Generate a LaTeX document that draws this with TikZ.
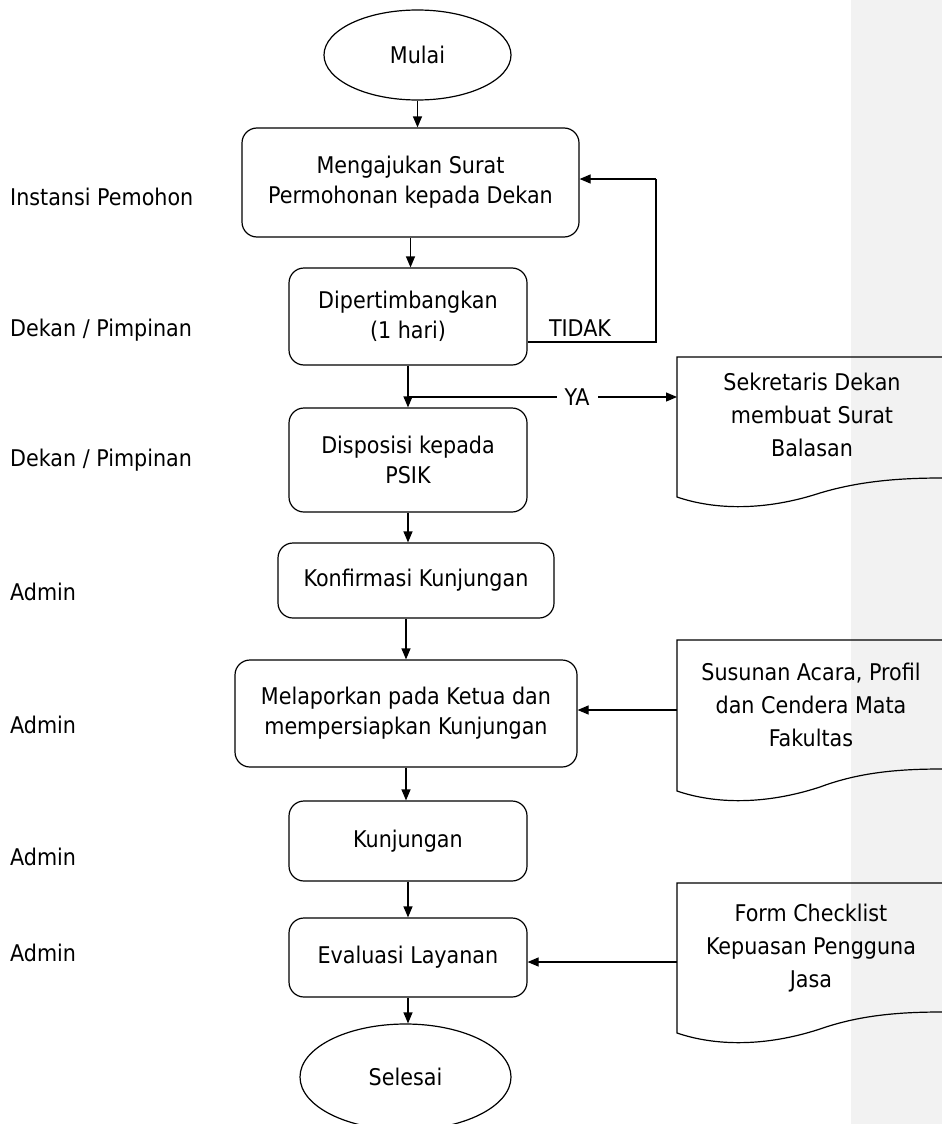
\documentclass[tikz,border=0pt]{standalone}
\usepackage{fontspec}
\setmainfont{DejaVu Sans Condensed}
\usetikzlibrary{shapes.geometric,arrows.meta,calc}
\definecolor{greyband}{RGB}{242,242,242}
\newcommand{\docpath}[3]{%
  \draw[ln] (942,#1) -- (677,#1) -- (677,#2)
    .. controls (715,#2+13) and (765,#2+14) .. (820,#2-4)
    .. controls (860,#2-#3+3) and (900,#2-#3) .. (942,#2-#3);}
\begin{document}
\begin{tikzpicture}[x=1pt,y=-1pt,
  every node/.style={font=\fontsize{23}{30}\selectfont, inner sep=0pt},
  proc/.style={draw, rounded corners=15pt, line width=1.2pt, align=center},
  term/.style={draw, ellipse, line width=1.2pt},
  arr/.style={line width=1.2pt, -{Triangle[length=11pt,width=9pt]}},
  ln/.style={line width=1.2pt},
  lbl/.style={anchor=west},
  doctext/.style={align=center, font=\fontsize{23}{33}\selectfont}]
\useasboundingbox (0,0) rectangle (942,1124);
\fill[greyband] (851,0) rectangle (942,1124);

% left labels
\node[lbl] (l1) at (10,197) {Instansi Pemohon};
\node[lbl] (l2) at (10,330) {Dekan / Pimpinan};
\node[lbl] (l3) at (10,460) {Dekan / Pimpinan};
\node[lbl] (l4) at (10,592) {Admin};
\node[lbl] (l5) at (10,725) {Admin};
\node[lbl] (l6) at (10,857) {Admin};
\node[lbl] (l7) at (10,953) {Admin};

% terminals
\node[term, minimum width=187pt, minimum height=90pt] (m) at (417.5,55) {Mulai};
\node[term, minimum width=211pt, minimum height=106pt] (s) at (405.5,1077) {Selesai};

% process boxes
\node[proc, minimum width=337pt, minimum height=109pt] (b1) at (410.5,182.5) {Mengajukan Surat\\Permohonan kepada Dekan};
\node[proc, minimum width=238pt, minimum height=97pt] (b2) at (408,316.5) {Dipertimbangkan\\(1 hari)};
\node[proc, minimum width=238pt, minimum height=104pt] (b3) at (408,460) {Disposisi kepada\\PSIK};
\node[proc, minimum width=276pt, minimum height=75pt] (b4) at (416,580.5) {Konfirmasi Kunjungan};
\node[proc, minimum width=342pt, minimum height=107pt] (b5) at (406,713.5) {Melaporkan pada Ketua dan\\mempersiapkan Kunjungan};
\node[proc, minimum width=238pt, minimum height=80pt] (b6) at (408,841) {Kunjungan};
\node[proc, minimum width=238pt, minimum height=79pt] (b7) at (408,957.5) {Evaluasi Layanan};

% documents
\docpath{357}{497}{19}
\docpath{640}{791}{22}
\docpath{883}{1033}{21}
\node[doctext] (d1) at (812,415) {Sekretaris Dekan\\membuat Surat\\Balasan};
\node[doctext] (d2) at (811,705) {Susunan Acara, Profil\\dan Cendera Mata\\Fakultas};
\node[doctext] (d3) at (811,948) {Form Checklist\\Kepuasan Pengguna\\Jasa};
\coordinate (d1l) at (677,397);
\coordinate (d2l) at (677,710);
\coordinate (d3l) at (677,962);

% loop coordinates
\coordinate (t1) at (656,342);
\coordinate (t2) at (656,179);

% connectors
\draw[arr] (m.south) -- (m.south |- b1.north);
\draw[arr] (b1.south) -- (b1.south |- b2.north);
\draw[ln] (b2.east |- t1) -- (t1) -- (t2);
\draw[arr] (t2) -- (b1.east |- t2);
\node (tidak) at (580,328) {TIDAK};
\draw[arr] (b2.south) -- (b3.north);
\draw[arr] (b2.south |- d1l) -- (d1l);
\node[fill=white, inner xsep=8pt, inner ysep=2pt] (ya) at (577,397) {YA};
\draw[arr] (b3.south) -- (b3.south |- b4.north);
\draw[arr] (b4.south -| b5.north) -- (b5.north);
\draw[arr] (d2l) -- (d2l -| b5.east);
\draw[arr] (b5.south) -- (b5.south |- b6.north);
\draw[arr] (b6.south) -- (b7.north);
\draw[arr] (d3l) -- (d3l -| b7.east);
\draw[arr] (b7.south) -- (b7.south |- s.north);
\end{tikzpicture}
\end{document}
